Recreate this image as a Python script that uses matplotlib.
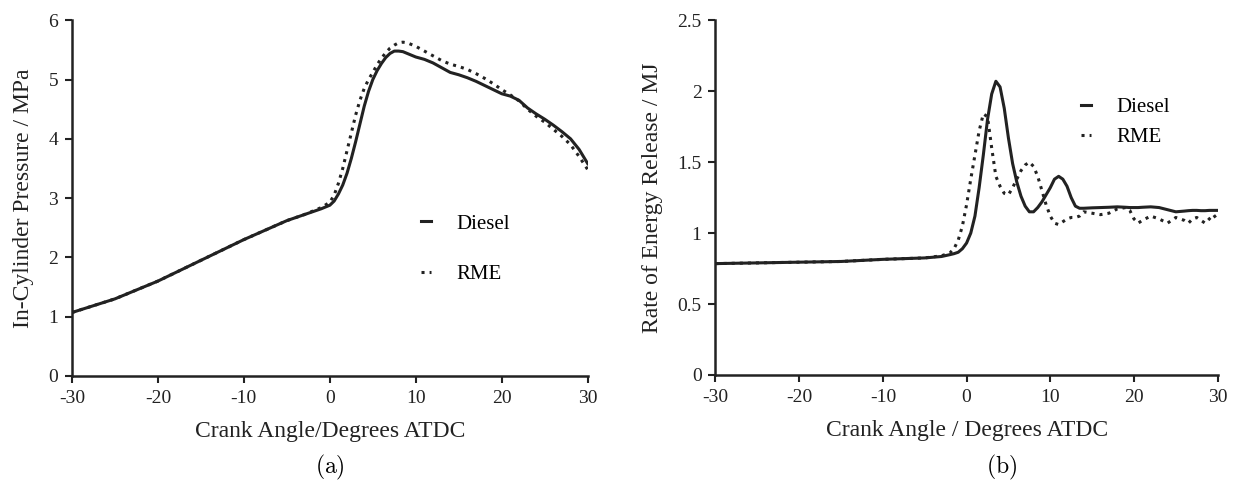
import matplotlib.pyplot as plt
import numpy as np

plt.rcParams['font.family'] = ['Liberation Serif', 'DejaVu Serif']
plt.rcParams['mathtext.fontset'] = 'cm'
plt.rcParams['axes.unicode_minus'] = False

# (a) 缸内压力
ca_p = [-30, -25, -20, -15, -10, -5, -3, -2, -1, 0, 0.5, 1, 1.5, 2, 2.5, 3, 3.5, 4, 4.5, 5, 5.5, 6,
        6.5, 7, 7.5, 8, 8.5, 9, 10, 11, 12, 13, 14, 15, 16, 17, 18, 19, 20, 21, 22, 23, 24,
        25, 26, 27, 28, 29, 30]
p_diesel = [1.07, 1.3, 1.6, 1.95, 2.3, 2.62, 2.72, 2.77, 2.82, 2.88, 2.95, 3.07, 3.22, 3.42, 3.67, 3.95,
            4.25, 4.55, 4.8, 5.0, 5.15, 5.27, 5.37, 5.44, 5.48, 5.48, 5.47, 5.44, 5.38, 5.34, 5.28,
            5.2, 5.12, 5.08, 5.03, 4.97, 4.9, 4.83, 4.76, 4.72, 4.65, 4.52, 4.42, 4.33, 4.23,
            4.12, 4.0, 3.82, 3.58]
p_rme = [1.07, 1.3, 1.6, 1.95, 2.3, 2.62, 2.72, 2.78, 2.84, 2.93, 3.05, 3.25, 3.5, 3.8, 4.1, 4.4,
         4.65, 4.85, 5.0, 5.12, 5.25, 5.36, 5.45, 5.53, 5.58, 5.62, 5.63, 5.62, 5.56, 5.48, 5.4,
         5.32, 5.26, 5.22, 5.17, 5.1, 5.02, 4.93, 4.83, 4.74, 4.64, 4.5, 4.38, 4.28, 4.16,
         4.04, 3.9, 3.7, 3.48]

# (b) 放热率
ca_r = [-30, -25, -20, -15, -10, -5, -3, -2, -1.5, -1, -0.5, 0, 0.5, 1, 1.5, 2, 2.5, 3, 3.5, 4,
        4.5, 5, 5.5, 6, 6.5, 7, 7.5, 8, 8.5, 9, 9.5, 10, 10.5, 11, 11.5, 12, 12.5, 13, 13.5,
        14, 15, 16, 17, 18, 19, 19.5, 20, 20.5, 21, 22, 23, 24, 25, 26, 26.5, 27, 27.5, 28,
        28.5, 29, 29.5, 30]
r_diesel = [0.785, 0.79, 0.795, 0.8, 0.815, 0.825, 0.835, 0.848, 0.855, 0.865, 0.89, 0.93, 1.0, 1.12,
            1.32, 1.55, 1.8, 1.98, 2.07, 2.03, 1.88, 1.67, 1.49, 1.36, 1.26, 1.19, 1.15, 1.15,
            1.18, 1.22, 1.27, 1.32, 1.38, 1.4, 1.38, 1.33, 1.25, 1.19, 1.175, 1.175, 1.178,
            1.18, 1.182, 1.185, 1.182, 1.18, 1.18, 1.18, 1.182, 1.185, 1.18, 1.165, 1.15,
            1.155, 1.158, 1.16, 1.16, 1.158, 1.158, 1.16, 1.16, 1.16]
r_rme = [0.785, 0.79, 0.795, 0.8, 0.815, 0.825, 0.84, 0.86, 0.89, 0.95, 1.05, 1.2, 1.38, 1.55,
         1.72, 1.84, 1.82, 1.6, 1.4, 1.33, 1.28, 1.27, 1.32, 1.38, 1.44, 1.48, 1.5, 1.47, 1.4,
         1.3, 1.2, 1.12, 1.07, 1.06, 1.08, 1.1, 1.11, 1.11, 1.12, 1.15, 1.14, 1.13, 1.14,
         1.17, 1.18, 1.16, 1.1, 1.07, 1.09, 1.12, 1.1, 1.07, 1.11, 1.09, 1.07, 1.1, 1.11,
         1.09, 1.07, 1.1, 1.13, 1.09]

fig = plt.figure(figsize=(12.4, 4.82), dpi=100)
ax1 = fig.add_axes([0.058, 0.22, 0.416, 0.738])
ax2 = fig.add_axes([0.577, 0.222, 0.405, 0.736])

def style(ax):
    for s in ['top', 'right']:
        ax.spines[s].set_visible(False)
    for s in ['left', 'bottom']:
        ax.spines[s].set_linewidth(1.8)
        ax.spines[s].set_color('#222222')
    ax.tick_params(direction='out', length=5, width=1.5, labelsize=14, colors='#222222', pad=5)
    ax.set_xlim(-30, 30)
    ax.set_xticks(np.arange(-30, 31, 10))

ax1.plot(ca_p, p_diesel, '-', color='#222222', lw=2.2, label='Diesel')
ax1.plot(ca_p, p_rme, ':', color='#222222', lw=2.2, label='RME')
style(ax1)
ax1.set_ylim(0, 6)
ax1.set_yticks(range(0, 7))
ax1.set_xlabel('Crank Angle/Degrees ATDC', fontsize=17, labelpad=10, color='#222222')
ax1.set_ylabel('In-Cylinder Pressure / MPa', fontsize=17, labelpad=10, color='#222222')
ax1.legend(loc='upper left', bbox_to_anchor=(0.64, 0.508), frameon=False, fontsize=15,
           handlelength=0.5, handletextpad=1.2, labelspacing=1.5)

ax2.plot(ca_r, r_diesel, '-', color='#222222', lw=2.2, label='Diesel')
ax2.plot(ca_r, r_rme, ':', color='#222222', lw=2.2, label='RME')
style(ax2)
ax2.set_ylim(0, 2.5)
ax2.set_yticks([0, 0.5, 1, 1.5, 2, 2.5])
ax2.set_yticklabels(['0', '0.5', '1', '1.5', '2', '2.5'])
ax2.set_xlabel('Crank Angle / Degrees ATDC', fontsize=17, labelpad=10, color='#222222')
ax2.set_ylabel('Rate of Energy Release / MJ', fontsize=17, labelpad=10, color='#222222')
ax2.legend(loc='upper left', bbox_to_anchor=(0.69, 0.834), frameon=False, fontsize=15,
           handlelength=0.5, handletextpad=1.2, labelspacing=0.5)

fig.text(0.266, 0.031, r'$\mathrm{(a)}$', ha='center', va='center', fontsize=17)
fig.text(0.808, 0.031, r'$\mathrm{(b)}$', ha='center', va='center', fontsize=17)

plt.savefig('out.png', dpi=100)
